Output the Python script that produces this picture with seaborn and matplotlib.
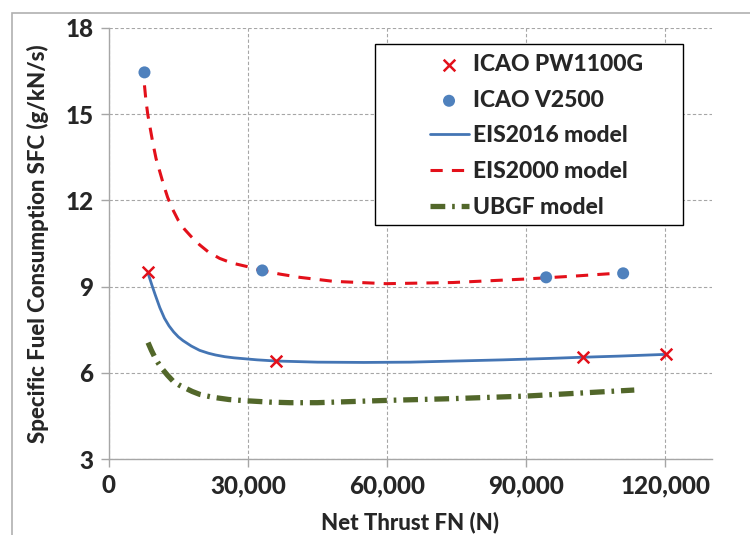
import matplotlib
matplotlib.use("Agg")
import matplotlib.pyplot as plt
import matplotlib.ticker as mticker
from matplotlib.patches import Rectangle
import seaborn as sns

# ICAO engine data points
pw_thrust = [8470, 36000, 102200, 120200]
pw_sfc = [9.50, 6.42, 6.54, 6.65]
v25_thrust = [7700, 33100, 94300, 110900]
v25_sfc = [16.45, 9.56, 9.32, 9.46]

# model curves
eis2016_x = [8500, 9300, 10000, 11000, 12000, 13000, 14000, 15000, 16000, 17800, 19600,
             21500, 23000, 25000, 27000, 32000, 36000, 45000, 55000, 65000, 75000,
             85000, 95000, 102000, 110000, 120000]
eis2016_y = [9.45, 9.05, 8.72, 8.27, 7.90, 7.63, 7.42, 7.25, 7.12, 6.93, 6.78,
             6.68, 6.62, 6.56, 6.52, 6.45, 6.41, 6.37, 6.36, 6.37, 6.41,
             6.45, 6.50, 6.54, 6.58, 6.64]
eis2000_x = [7700, 8000, 8400, 9000, 9500, 10200, 11000, 11800, 12700, 13800, 15000,
             16300, 17700, 19600, 21500, 23900, 26500, 29700, 33100, 37000, 41200,
             48500, 59800, 74200, 89600, 100000, 110200]
eis2000_y = [16.0, 15.5, 15.0, 14.45, 14.0, 13.45, 13.0, 12.55, 12.1, 11.68, 11.3,
             11.0, 10.75, 10.45, 10.2, 9.98, 9.82, 9.70, 9.55, 9.43, 9.32,
             9.18, 9.10, 9.14, 9.26, 9.36, 9.47]
ubgf_x = [8470, 9200, 9900, 10700, 11560, 12700, 13860, 15200, 16600, 18000, 19600,
          21200, 22800, 25900, 29300, 34700, 39000, 45000, 60000, 74000, 90000,
          100000, 113300]
ubgf_y = [7.05, 6.78, 6.55, 6.33, 6.13, 5.91, 5.71, 5.57, 5.46, 5.35, 5.25,
          5.19, 5.14, 5.07, 5.03, 4.98, 4.96, 4.96, 5.04, 5.10, 5.19,
          5.28, 5.40]

sns.set_style("white")
plt.rcParams['font.family'] = ['Lato', 'DejaVu Sans']

fig = plt.figure(figsize=(7.5, 5.35), dpi=100)
ax = fig.add_axes([0.145, 0.142, 0.804, 0.806])

grey = '#a6a6a6'
sns.scatterplot(x=pw_thrust, y=pw_sfc, ax=ax, marker='x', color='#e3101a', s=70,
                linewidth=1.8, label='ICAO PW1100G', zorder=5)
sns.scatterplot(x=v25_thrust, y=v25_sfc, ax=ax, marker='o', color='#4f81bd', s=75,
                edgecolor='none', label='ICAO V2500', zorder=5)
sns.lineplot(x=eis2016_x, y=eis2016_y, ax=ax, color='#4475b4', linewidth=2,
             label='EIS2016 model', sort=False)
sns.lineplot(x=eis2000_x, y=eis2000_y, ax=ax, color='#e3101a', linewidth=2.2,
             linestyle=(0, (4, 3)), label='EIS2000 model', sort=False)
sns.lineplot(x=ubgf_x, y=ubgf_y, ax=ax, color='#52672a', linewidth=3.8,
             linestyle=(0, (2.8, 1.3, 0.5, 1.3)), label='UBGF model', sort=False)

ax.set_xlim(0, 130000)
ax.set_ylim(3, 18)
ax.set_xticks([0, 30000, 60000, 90000, 120000])
ax.set_yticks([3, 6, 9, 12, 15, 18])
ax.xaxis.set_major_formatter(mticker.StrMethodFormatter('{x:,.0f}'))
ax.tick_params(axis='both', labelsize=17.5, length=6, color=grey, width=1, pad=5,
               bottom=True, left=True)
for lab in ax.get_xticklabels() + ax.get_yticklabels():
    lab.set_fontweight('black')

ax.grid(True, linestyle=(0, (3, 2)), color=grey, linewidth=0.8)
for side in ['top', 'right']:
    ax.spines[side].set_visible(False)
for side in ['left', 'bottom']:
    ax.spines[side].set_color(grey)
    ax.spines[side].set_linewidth(1)

ax.set_xlabel('Net Thrust FN (N)', fontsize=16, fontweight='black', labelpad=10)
ax.set_ylabel('Specific Fuel Consumption SFC (g/kN/s)', fontsize=16,
              fontweight='black', labelpad=12)

# legend box drawn separately so the entries sit centred like the original
ax.add_patch(Rectangle((0.441, 0.543), 0.511, 0.42, transform=ax.transAxes,
                       facecolor='white', edgecolor='black', linewidth=1, zorder=6))
leg = ax.legend(loc='upper left', bbox_to_anchor=(0.532, 0.939), fontsize=16.5,
                frameon=False, handlelength=1.7, handletextpad=0.2,
                labelspacing=0.64, borderpad=0, borderaxespad=0)
leg.set_zorder(7)
for t in leg.get_texts():
    t.set_fontweight('black')

fig.patches.append(Rectangle((0.016, -0.05), 1.1, 1.026, transform=fig.transFigure,
                             fill=False, edgecolor='#b0b0b0', linewidth=1.2))

fig.savefig('out.png', dpi=100)
